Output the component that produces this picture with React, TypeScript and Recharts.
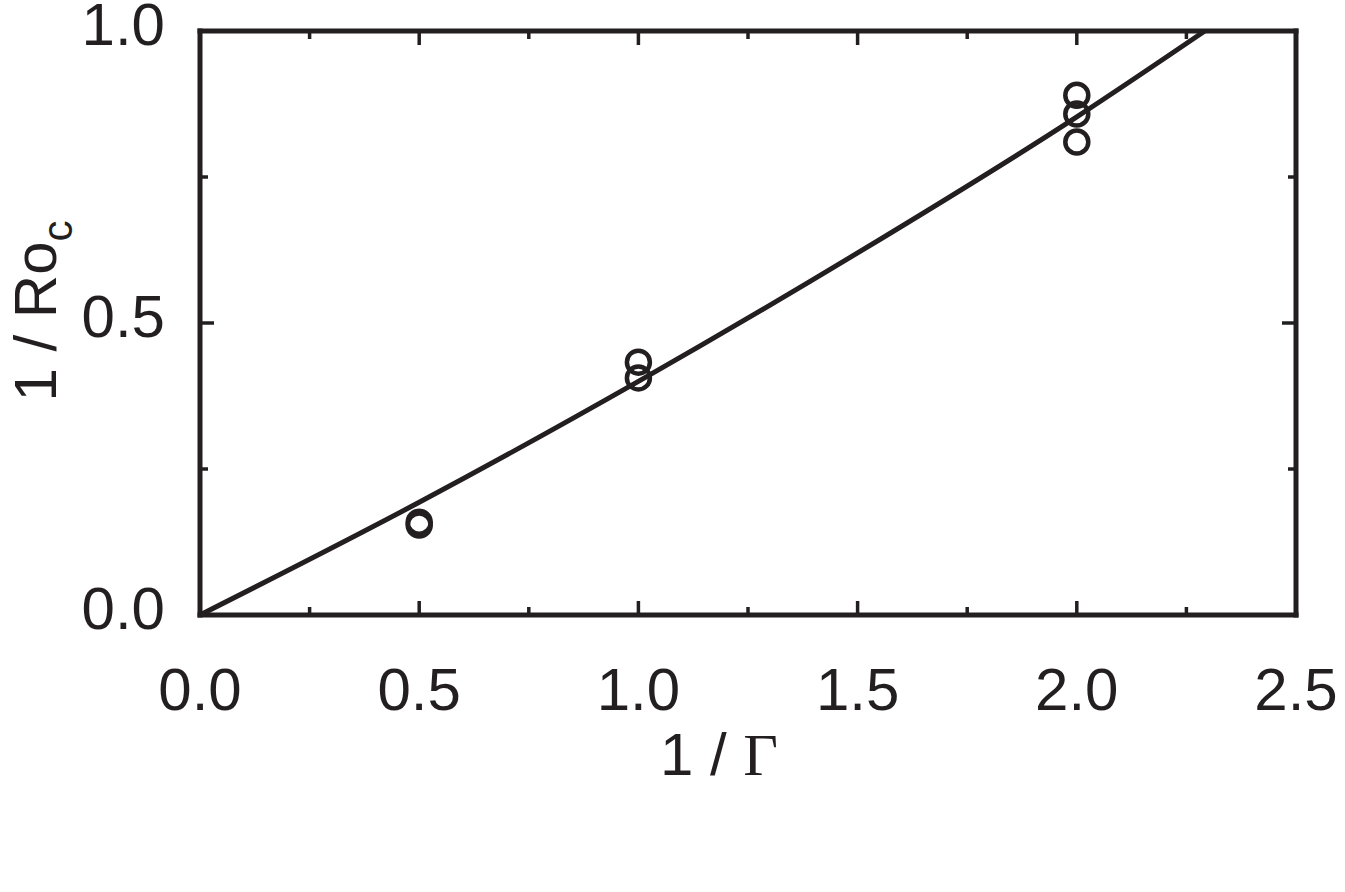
import { ScatterChart, Scatter, XAxis, YAxis, Label } from "recharts"

const INK = "#231f20"

// measured points (x = 1/Gamma, y = 1/Ro_c)
const pointX = [0.5, 0.5, 1.0, 1.0, 2.0, 2.0, 2.0]
const pointY = [0.159, 0.154, 0.433, 0.406, 0.89, 0.858, 0.81]

// fitted curve
const fitX = [0, 0.5, 1.0, 1.5, 2.0, 2.292]
const fitY = [0, 0.193, 0.4, 0.62, 0.853, 1.0]

const xTicks = [0, 0.25, 0.5, 0.75, 1.0, 1.25, 1.5, 1.75, 2.0, 2.25, 2.5]
const yTicks = [0, 0.25, 0.5, 0.75, 1.0]

const points = pointX.map((x, i) => ({ x, y: pointY[i] }))
const fit = fitX.map((x, i) => ({ x, y: fitY[i] }))

const isMajor = (v: number) => Math.abs(v * 2 - Math.round(v * 2)) < 1e-6
const tickLen = (v: number) => (isMajor(v) ? 14 : 8)

const labelStyle = {
  fontFamily: "'Liberation Sans', Arial, Helvetica, sans-serif",
  fontSize: 60,
  fill: INK,
}

const BottomTick = (props: any) => {
  const { x, y, payload } = props
  const v = payload.value
  return (
    <g>
      <line x1={x} x2={x} y1={y} y2={y - tickLen(v)} stroke={INK} strokeWidth={3.5} />
      {isMajor(v) && (
        <text x={x} y={y + 95} textAnchor="middle" {...labelStyle}>
          {v.toFixed(1)}
        </text>
      )}
    </g>
  )
}

const TopTick = (props: any) => {
  const { x, y, payload } = props
  return <line x1={x} x2={x} y1={y} y2={y + tickLen(payload.value)} stroke={INK} strokeWidth={3.5} />
}

const LeftTick = (props: any) => {
  const { x, y, payload } = props
  const v = payload.value
  return (
    <g>
      <line x1={x} x2={x + tickLen(v)} y1={y} y2={y} stroke={INK} strokeWidth={3.5} />
      {isMajor(v) && (
        <text x={x - 35} y={y + 14} textAnchor="end" {...labelStyle}>
          {v.toFixed(1)}
        </text>
      )}
    </g>
  )
}

const RightTick = (props: any) => {
  const { x, y, payload } = props
  return <line x1={x} x2={x - tickLen(payload.value)} y1={y} y2={y} stroke={INK} strokeWidth={3.5} />
}

const XTitle = (props: any) => {
  const { viewBox } = props
  const cx = viewBox.x + viewBox.width / 2 - 29
  return (
    <text x={cx} y={viewBox.y + 160} textAnchor="middle" {...labelStyle}>
      1 / <tspan fontFamily="'Liberation Serif', 'Times New Roman', serif">Γ</tspan>
    </text>
  )
}

const YTitle = (props: any) => {
  const { viewBox } = props
  const cx = 56
  const cy = viewBox.y + viewBox.height / 2 - 12
  return (
    <text x={cx} y={cy} transform={`rotate(-90 ${cx} ${cy})`} textAnchor="middle" {...labelStyle}>
      1 / Ro
      <tspan fontSize={42} dy={16}>c</tspan>
    </text>
  )
}

const Ring = (props: any) => (
  <circle cx={props.cx} cy={props.cy} r={11.5} fill="none" stroke={INK} strokeWidth={4.5} />
)

const Nothing = () => <g />

const frame = { stroke: INK, strokeWidth: 5, strokeLinecap: "square" as const }

export default function App() {
  return (
    <div style={{ width: 1345, height: 892, background: "#fff" }}>
      <style>{"body{margin:0}"}</style>
      <ScatterChart width={1345} height={892} margin={{ top: 30, right: 48, bottom: 0, left: 0 }}>
        <XAxis
          xAxisId="b"
          type="number"
          dataKey="x"
          domain={[0, 2.5]}
          ticks={xTicks}
          interval={0}
          height={277}
          tickSize={0}
          tickMargin={0}
          tickLine={false}
          axisLine={frame}
          tick={BottomTick}
        >
          <Label content={XTitle} />
        </XAxis>
        <XAxis
          xAxisId="t"
          orientation="top"
          type="number"
          dataKey="x"
          domain={[0, 2.5]}
          ticks={xTicks}
          interval={0}
          height={1}
          tickSize={0}
          tickMargin={0}
          tickLine={false}
          axisLine={frame}
          tick={TopTick}
        />
        <YAxis
          yAxisId="l"
          type="number"
          dataKey="y"
          domain={[0, 1]}
          ticks={yTicks}
          interval={0}
          width={200}
          tickSize={0}
          tickMargin={0}
          tickLine={false}
          axisLine={frame}
          tick={LeftTick}
        >
          <Label content={YTitle} />
        </YAxis>
        <YAxis
          yAxisId="r"
          orientation="right"
          type="number"
          dataKey="y"
          domain={[0, 1]}
          ticks={yTicks}
          interval={0}
          width={1}
          tickSize={0}
          tickMargin={0}
          tickLine={false}
          axisLine={frame}
          tick={RightTick}
        />
        <Scatter
          xAxisId="b"
          yAxisId="l"
          data={fit}
          line={{ stroke: INK, strokeWidth: 5 }}
          lineType="joint"
          lineJointType="monotoneX"
          shape={Nothing}
          isAnimationActive={false}
        />
        <Scatter xAxisId="b" yAxisId="l" data={points} shape={Ring} isAnimationActive={false} />
        <Scatter xAxisId="t" yAxisId="r" data={points} shape={Nothing} isAnimationActive={false} />
      </ScatterChart>
    </div>
  )
}
